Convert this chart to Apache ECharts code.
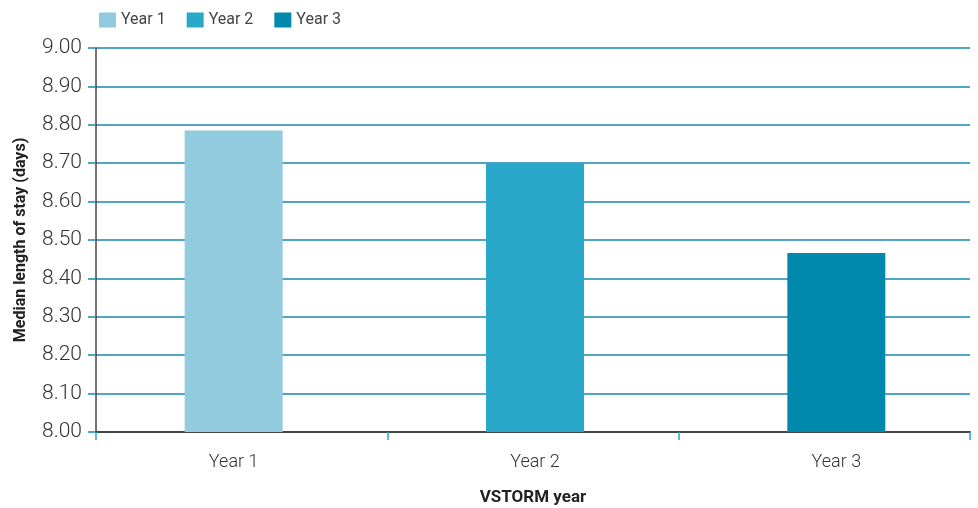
<!DOCTYPE html>
<html>
<head>
<meta charset="utf-8">
<script src="https://cdn.jsdelivr.net/npm/echarts@6/dist/echarts.min.js"></script>
<style>html,body{margin:0;padding:0;background:#fff}#c{width:978px;height:508px}</style>
</head>
<body>
<div id="c"></div>
<script>
var categories = ['Year 1', 'Year 2', 'Year 3'];
var seriesNames = ['Year 1', 'Year 2', 'Year 3'];
var values = [8.785, 8.70, 8.466];
var colors = ['#93CBDE', '#2AA8C9', '#0089AD'];
var yTicks = { min: 8, max: 9, interval: 0.1 };

var chart = echarts.init(document.getElementById('c'));
var font = 'Roboto';
var series = seriesNames.map(function (n, i) {
  var d = categories.map(function (c, j) { return j === i ? values[i] : '-'; });
  return {
    name: n, type: 'bar', xAxisIndex: 1, yAxisIndex: 1, data: d,
    barWidth: 98, barGap: '-100%', itemStyle: { color: colors[i] }
  };
});
chart.setOption({
  animation: false,
  color: colors,
  legend: {
    left: 99, top: 12, padding: 0, itemWidth: 17, itemHeight: 15, itemGap: 21,
    icon: 'rect',
    textStyle: { fontFamily: font, fontSize: 16, color: '#444' },
    data: seriesNames
  },
  grid: [
    { left: 96, right: 8, top: 48, bottom: 76, outerBoundsMode: 'none', containLabel: false },
    { left: 83, right: -9, top: 48, bottom: 76, outerBoundsMode: 'none', containLabel: false }
  ],
  xAxis: [
    {
      gridIndex: 0, type: 'category', data: categories,
      axisLine: { lineStyle: { color: '#444', width: 2 } },
      axisTick: { show: true, length: 8, lineStyle: { color: '#2AA8C9', width: 1.5 } },
      axisLabel: { show: false },
      name: 'VSTORM year', nameLocation: 'middle', nameGap: 57,
      nameTextStyle: { fontFamily: font, fontWeight: 'bold', fontSize: 17, color: '#222' }
    },
    {
      gridIndex: 1, type: 'category', data: categories,
      axisLine: { show: false }, axisTick: { show: false },
      axisLabel: { margin: 21, fontFamily: font, fontSize: 18, fontWeight: 300, color: '#333' }
    }
  ],
  yAxis: [
    {
      gridIndex: 0, type: 'value', min: yTicks.min, max: yTicks.max, interval: yTicks.interval,
      axisLine: { show: true, lineStyle: { color: '#444', width: 1.5 } },
      axisTick: { show: true, length: 8, lineStyle: { color: '#1A87B0', width: 1.5 } },
      axisLabel: { margin: 14, fontFamily: font, fontSize: 21, fontWeight: 300, color: '#333',
        formatter: function (v) { return v.toFixed(2); } },
      splitLine: { lineStyle: { color: '#1A87B0', width: 1.5 } },
      name: 'Median length of stay (days)', nameLocation: 'middle', nameGap: 67,
      nameTextStyle: { fontFamily: font, fontWeight: 'bold', fontSize: 16, color: '#222' }
    },
    {
      gridIndex: 1, type: 'value', min: yTicks.min, max: yTicks.max, interval: yTicks.interval,
      show: false
    }
  ],
  series: series
});
</script>
</body>
</html>
